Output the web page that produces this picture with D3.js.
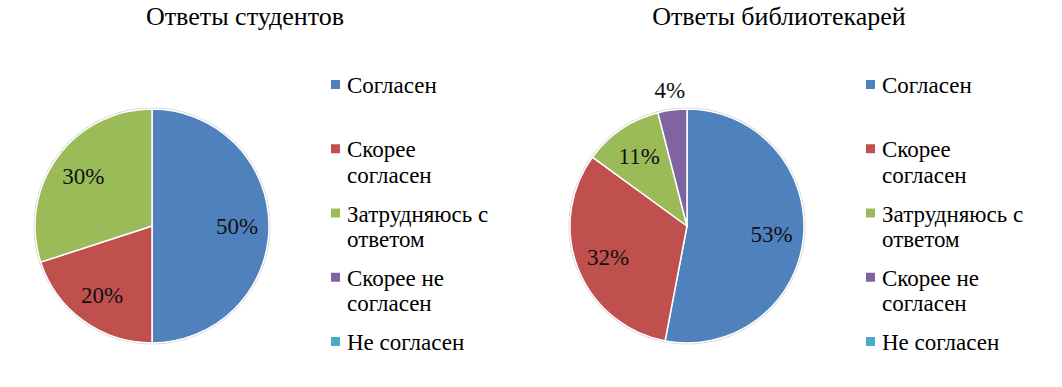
<!DOCTYPE html>
<html lang="ru">
<head>
<meta charset="utf-8">
<script src="https://cdn.jsdelivr.net/npm/d3@7"></script>
<style>
  html, body { margin: 0; padding: 0; background: #fff; }
  svg { display: block; }
</style>
</head>
<body>
<svg id="chart" width="1062" height="387"></svg>
<script>
// ---- data ----
const categories = ["Согласен", "Скорее согласен", "Затрудняюсь с ответом", "Скорее не согласен", "Не согласен"];
const legendLines = [["Согласен"], ["Скорее", "согласен"], ["Затрудняюсь с", "ответом"], ["Скорее не", "согласен"], ["Не согласен"]];
const studentsValues = [50, 20, 30, 0, 0];
const librariansValues = [53, 32, 11, 4, 0];
const chartTitles = ["Ответы студентов", "Ответы библиотекарей"];
const colors = ["#4F81BD", "#C0504D", "#9BBB59", "#8064A2", "#4BACC6"];

// ---- layout ----
const FONT = '"Liberation Serif", Tinos, "Times New Roman", serif';
const svg = d3.select("#chart");
const R = 117;
const panels = [
  { title: chartTitles[0], values: studentsValues, cx: 152, cy: 226, titleX: 245, legendX: 331 },
  { title: chartTitles[1], values: librariansValues, cx: 687, cy: 226, titleX: 779, legendX: 866 }
];

const pie = d3.pie().sort(null).value(d => d.value).startAngle(0).endAngle(2 * Math.PI);
const arc = d3.arc().innerRadius(0).outerRadius(R);
const labelArcIn = d3.arc().innerRadius(85).outerRadius(85);
const labelArcOut = d3.arc().innerRadius(137).outerRadius(137);
const color = d3.scaleOrdinal().domain(categories).range(colors);
const legendY = d3.scalePoint().domain(categories).range([93, 350]);

panels.forEach(p => {
  const g = svg.append("g");

  g.append("text")
    .attr("x", p.titleX).attr("y", 25)
    .attr("text-anchor", "middle")
    .style("font-family", FONT)
    .style("font-size", "26px")
    .style("fill", "#000")
    .text(p.title);

  const pg = g.append("g").attr("transform", `translate(${p.cx},${p.cy})`);
  pg.append("circle").attr("r", R + 0.5)
    .attr("fill", "none").attr("stroke", "#d4d4d4").attr("stroke-width", 2);

  const data = categories.map((c, i) => ({ cat: c, value: p.values[i] }));
  const arcs = pie(data).filter(d => d.data.value > 0);

  pg.selectAll("path.slice").data(arcs).join("path")
    .attr("class", "slice")
    .attr("d", arc)
    .attr("fill", d => color(d.data.cat))
    .attr("stroke", "#fff")
    .attr("stroke-width", 1.5)
    .attr("stroke-linejoin", "round");

  pg.selectAll("text.lbl").data(arcs).join("text")
    .attr("class", "lbl")
    .attr("transform", d => `translate(${(d.data.value < 5 ? labelArcOut : labelArcIn).centroid(d)})`)
    .attr("text-anchor", "middle")
    .attr("dy", "0.35em")
    .style("font-family", FONT)
    .style("font-size", "23px")
    .style("fill", "#111")
    .text(d => d.data.value + "%");

  const lg = g.append("g");
  categories.forEach((c, i) => {
    const y = legendY(c);
    lg.append("rect")
      .attr("x", p.legendX).attr("y", y - 13)
      .attr("width", 9).attr("height", 9)
      .attr("fill", color(c));
    const t = lg.append("text")
      .attr("x", p.legendX + 16).attr("y", y)
      .style("font-family", FONT)
      .style("font-size", "23px")
      .style("fill", "#000");
    legendLines[i].forEach((line, j) => {
      t.append("tspan").attr("x", p.legendX + 16).attr("dy", j === 0 ? 0 : 25.5).text(line);
    });
  });
});
</script>
</body>
</html>
